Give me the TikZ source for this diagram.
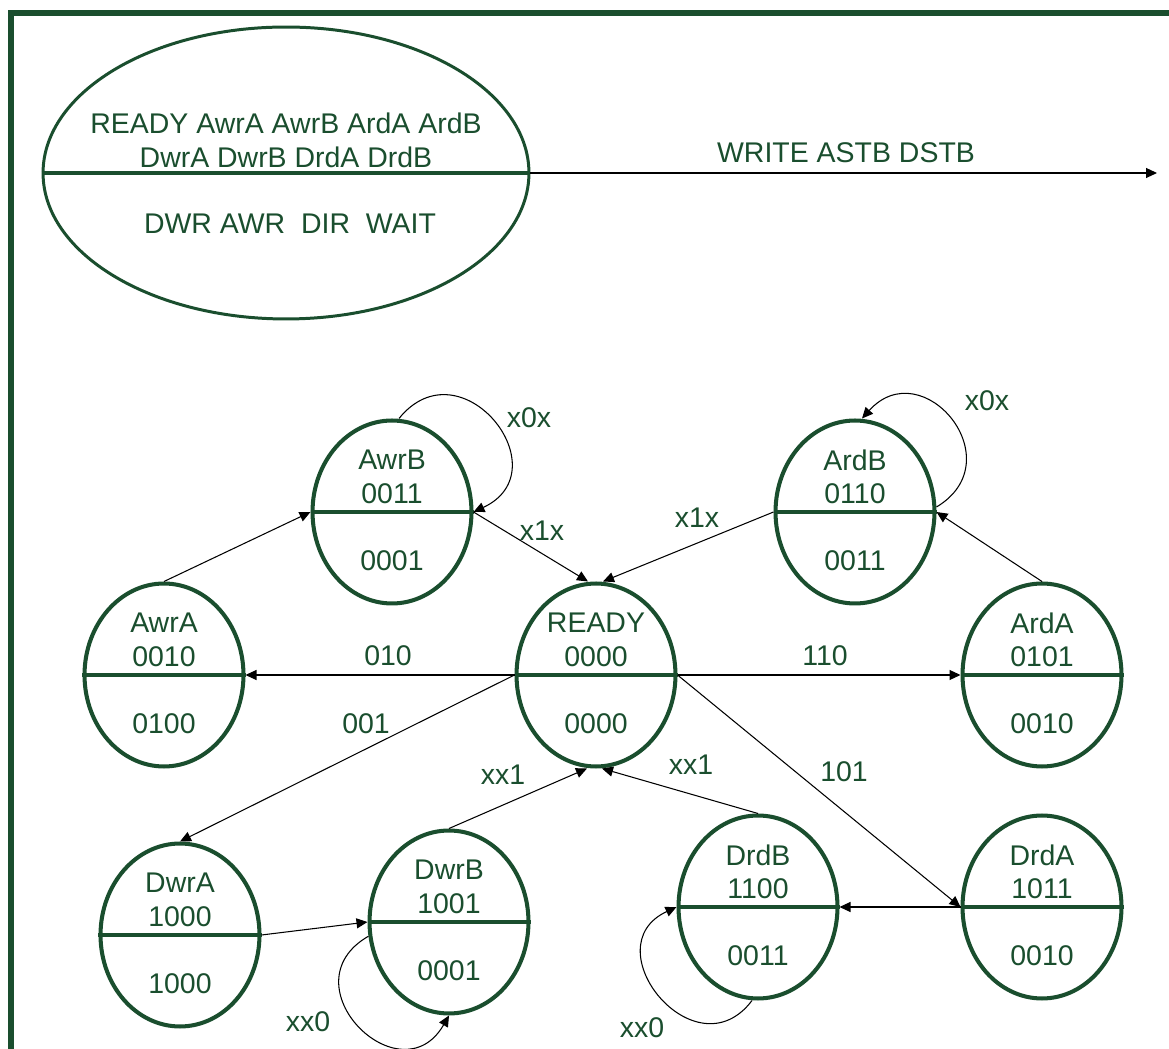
\documentclass[tikz,border=0pt]{standalone}
\usepackage{fontspec}
\setmainfont{Liberation Sans}
\usepackage{tikz}
\usetikzlibrary{arrows.meta, shapes.geometric}
\definecolor{fsmgreen}{RGB}{26,78,46}

\begin{document}
\begin{tikzpicture}[x=0.02cm, y=0.02cm,
  every node/.style={text=fsmgreen, font=\fontsize{16.2}{19.3}\selectfont},
  state/.style={ellipse, draw=fsmgreen, line width=2.3pt, minimum width=3.18cm, minimum height=3.66cm, inner sep=0pt},
  divider/.style={draw=fsmgreen, line width=2.3pt},
  trans/.style={-{Triangle[length=0.22cm,width=0.2cm]}, line width=0.6pt}]
  \useasboundingbox (0,0) rectangle (1169,1048);
  % frame
  \draw[fsmgreen, line width=3.4pt] (11,-20) -- (11,1035) -- (1190,1035);

  % key: state names and codes over outputs
  \node[ellipse, draw=fsmgreen, line width=1.7pt, minimum width=9.72cm, minimum height=5.84cm] (key) at (286,875) {};
  \draw[fsmgreen, line width=2pt] (key.west) -- (key.east);
  \node[align=center] (key-in) at (286,908) {READY AwrA AwrB ArdA ArdB\\DwrA DwrB DrdA DrdB};
  \node (key-out) at (290,824) {DWR AWR\ \ DIR\ \ WAIT};
  \coordinate (key-end) at (1157,875);
  \draw[trans] (key.east) -- (key-end);
  \node (key-lbl) at (846,895) {WRITE ASTB DSTB};

  % states
  \foreach \n/\x/\y/\nm/\cd/\ou in {
      awrB/392/536/AwrB/0011/0001, ardB/855/536/ArdB/0110/0011,
      awrA/164/373/AwrA/0010/0100, ready/596/373/READY/0000/0000,
      ardA/1042/373/ArdA/0101/0010, dwrA/180/113/DwrA/1000/1000,
      dwrB/449/126/DwrB/1001/0001, drdB/758/141/DrdB/1100/0011,
      drdA/1042/141/DrdA/1011/0010} {
    \node[state] (\n) at (\x,\y) {};
    \draw[divider] (\n.west) -- (\n.east);
    \node (\n-nm) at (\x,\y+52) {\nm};
    \node (\n-cd) at (\x,\y+18) {\cd};
    \node (\n-ou) at (\x,\y-49) {\ou};
  }

  % transitions
  \draw[trans] (awrA.north) -- (awrB.west);
  \draw[trans] (awrB.east) -- ([xshift=-0.16cm]ready.north);
  \draw[trans] (ardB.west) -- ([xshift=0.14cm]ready.north);
  \draw[trans] (ardA.north) -- (ardB.east);
  \draw[trans] (ready.west) -- (awrA.east);
  \draw[trans] (ready.east) -- (ardA.west);
  \draw[trans] (ready.west) -- (dwrA.north);
  \draw[trans] (ready.east) -- (drdA.west);
  \draw[trans] (dwrB.north) -- ([xshift=-0.18cm]ready.south);
  \draw[trans] (drdB.north) -- ([xshift=0.12cm]ready.south);
  \draw[trans] (dwrA.east) -- (dwrB.west);
  \draw[trans] (drdA.west) -- (drdB.east);

  % self loops
  \draw[trans] ([xshift=0.14cm]awrB.north) to[out=51, in=25, looseness=2.1] (awrB.east);
  \draw[trans] ([yshift=0.1cm]ardB.east) to[out=31, in=48, looseness=2] ([xshift=0.14cm]ardB.north);
  \draw[trans] (dwrB.190) to[out=210, in=240, looseness=2.2] (dwrB.south);
  \draw[trans] ([xshift=-0.12cm]drdB.south) to[out=233, in=205, looseness=2] (drdB.west);

  % transition labels
  \node (l-awrb-x0x) at (529,630) {x0x};
  \node (l-ardb-x0x) at (987,647) {x0x};
  \node (l-awrb-x1x) at (542,517) {x1x};
  \node (l-ardb-x1x) at (697,530) {x1x};
  \node (l-010) at (388,392) {010};
  \node (l-110) at (825,392) {110};
  \node (l-001) at (366,324) {001};
  \node (l-101) at (844,276) {101};
  \node (l-dwrb-xx1) at (503,273) {xx1};
  \node (l-drdb-xx1) at (691,283) {xx1};
  \node (l-dwrb-xx0) at (308,26) {xx0};
  \node (l-drdb-xx0) at (642,20) {xx0};
\end{tikzpicture}
\end{document}
